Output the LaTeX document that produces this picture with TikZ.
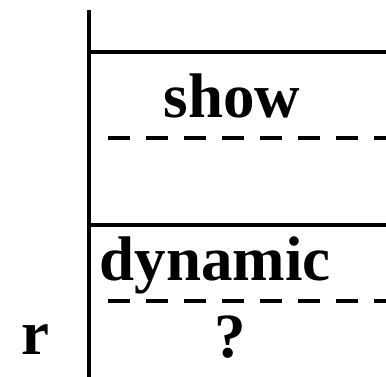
\documentclass[tikz,border=0pt]{standalone}
\usepackage{fontspec}
\setmainfont{Liberation Serif}
\begin{document}
\begin{tikzpicture}[x=1pt,y=-1pt,
  rule/.style={line width=4pt,black},
  split/.style={line width=4pt,black,dash pattern=on 22pt off 16pt},
  lbl/.style={inner sep=0pt,anchor=base,font=\fontsize{63}{63}\selectfont\bfseries}]
\useasboundingbox (0,0) rectangle (386,377);
% vertical frame edge
\coordinate (vtop) at (89,10);
\coordinate (vbot) at (89,377);
\draw[rule] (vtop) -- (vbot);
% solid row separators
\coordinate (h1a) at (87,52);  \coordinate (h1b) at (386,52);
\coordinate (h2a) at (87,225); \coordinate (h2b) at (386,225);
\draw[rule] (h1a) -- (h1b);
\draw[rule] (h2a) -- (h2b);
% dashed separators
\coordinate (d1a) at (108,138); \coordinate (d1b) at (386,138);
\coordinate (d2a) at (108,301); \coordinate (d2b) at (386,301);
\draw[split] (d1a) -- (d1b);
\draw[split] (d2a) -- (d2b);
% labels
\node[lbl] (show) at (232,118) {show};
\node[lbl] (dyn) at (215,280) {dynamic};
\node[lbl] (r) at (35,354) {r};
\node[lbl] (q) at (230,357) {?};
\end{tikzpicture}
\end{document}
